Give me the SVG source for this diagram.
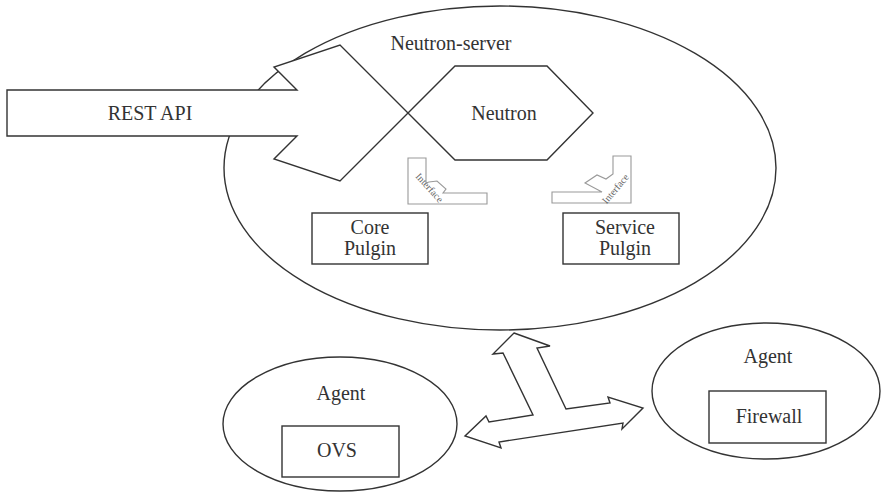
<svg xmlns="http://www.w3.org/2000/svg" width="882" height="493" viewBox="0 0 882 493">
<style>
.ln{fill:#fff;stroke:#333;stroke-width:1.4;stroke-linejoin:miter}
.lt{fill:#fff;stroke:#999;stroke-width:1.1}
.t{font-family:"Liberation Serif","Times New Roman",serif;font-size:20px;fill:#333;text-anchor:middle}
.s{font-family:"Liberation Serif","Times New Roman",serif;font-size:10px;fill:#666;text-anchor:middle}
</style>
<rect width="882" height="493" fill="#fff"/>
<g id="neutron-server">
<ellipse class="ln" cx="500" cy="168" rx="276" ry="162"/>
<text class="t" x="451" y="50">Neutron-server</text>
</g>
<g id="rest-api">
<polygon class="ln" points="7,90 297,90 274,67 340,45 408,113 340,181 274,159 297,136 7,136"/>
<text class="t" x="150" y="120">REST API</text>
</g>
<g id="neutron">
<polygon class="ln" points="408,113 455,66 547,66 593,113 547,160 455,160"/>
<text class="t" x="504" y="120">Neutron</text>
</g>
<g id="interface-left">
<polygon class="lt" points="408,158 426,158 426,183 429,182 437,181 446,189 443,193 487,193 487,204 408,204"/>
<text class="s" x="427" y="190" transform="rotate(48 427 190)">Interface</text>
</g>
<g id="interface-right">
<polygon class="lt" points="613,156 631,156 631,203 552,203 552,192 602,192 585,183 597,175 606,179 613,174"/>
<text class="s" x="618" y="191" transform="rotate(-50 618 191)">Interface</text>
</g>
<g id="core-pulgin">
<rect class="ln" x="312" y="213" width="116" height="51"/>
<text class="t" x="370" y="234">Core</text>
<text class="t" x="370" y="255">Pulgin</text>
</g>
<g id="service-pulgin">
<rect class="ln" x="563" y="213" width="116" height="51"/>
<text class="t" x="625" y="234">Service</text>
<text class="t" x="625" y="255">Pulgin</text>
</g>
<g id="agent-ovs">
<ellipse class="ln" cx="340" cy="424" rx="117" ry="67"/>
<text class="t" x="341" y="400">Agent</text>
<rect class="ln" x="282" y="426" width="117" height="51"/>
<text class="t" x="337" y="457">OVS</text>
</g>
<g id="agent-firewall">
<ellipse class="ln" cx="766" cy="391" rx="114" ry="68"/>
<text class="t" x="768" y="363">Agent</text>
<rect class="ln" x="709" y="391" width="117" height="52"/>
<text class="t" x="769" y="423">Firewall</text>
</g>
<g id="connectors">
<polygon class="ln" points="514,333 550,346 537,348 566,409 610,403 608,397 643,408 622,429 623,423 499,442 501,448 465,436 486,416 489,422 533,415 503,353 493,354"/>
</g>
</svg>
